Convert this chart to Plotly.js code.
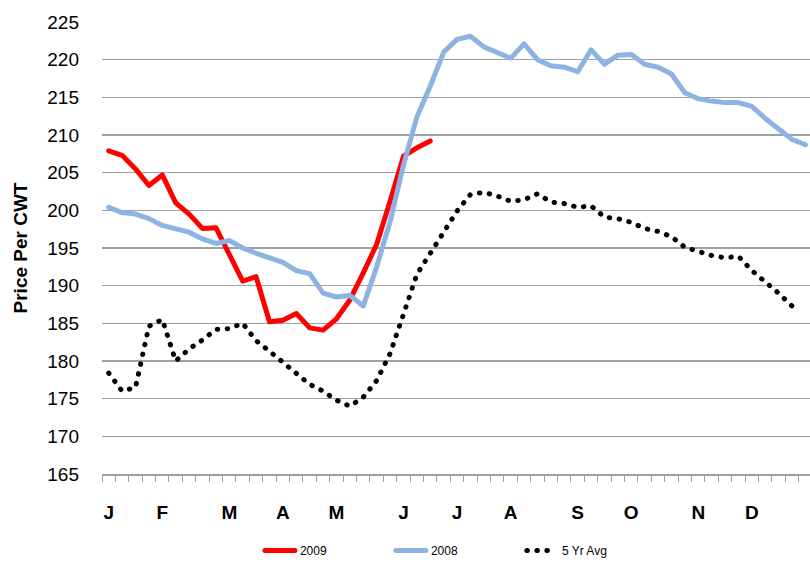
<!DOCTYPE html>
<html>
<head>
<meta charset="utf-8">
<script src="https://cdn.plot.ly/plotly-3.0.1.min.js"></script>
<style>
  html, body { margin: 0; padding: 0; background: #ffffff; }
  #chart { width: 810px; height: 565px; }
  #chart path.js-line { stroke-linecap: round !important; stroke-linejoin: round !important; }
</style>
</head>
<body>
<div id="chart"></div>
<script>
// ---- Data (weekly, price per CWT) ----
var monthLabels = ['J', 'F', 'M', 'A', 'M', 'J', 'J', 'A', 'S', 'O', 'N', 'D'];
var monthStartWeek = [0, 4, 9, 13, 17, 22, 26, 30, 35, 39, 44, 48];

var series2009 = [207.9, 207.3, 205.5, 203.3, 204.7, 201.0, 199.5, 197.6, 197.7, 194.3,
                  190.6, 191.2, 185.2, 185.4, 186.3, 184.4, 184.1, 185.6, 188.1, 191.7,
                  195.5, 201.2, 207.2, 208.3, 209.2];

var series2008 = [200.4, 199.7, 199.5, 198.9, 198.0, 197.6, 197.1, 196.2, 195.6, 196.0,
                  195.0, 194.3, 193.7, 193.1, 192.0, 191.6, 189.0, 188.5, 188.7, 187.3,
                  192.5, 198.5, 206.0, 212.4, 216.5, 221.0, 222.7, 223.1, 221.7, 221.0,
                  220.2, 222.1, 220.0, 219.2, 219.0, 218.4, 221.3, 219.4, 220.6, 220.7,
                  219.4, 219.0, 218.1, 215.6, 214.8, 214.5, 214.3, 214.3, 213.8, 212.2,
                  210.7, 209.4, 208.7];

var series5yr = [178.4, 176.0, 176.5, 184.6, 185.5, 180.0, 181.6, 182.8, 184.2, 184.3,
                 185.0, 182.7, 181.3, 179.8, 178.3, 176.9, 176.0, 174.8, 174.0, 175.2,
                 177.4, 181.0, 186.2, 191.5, 194.3, 197.0, 199.9, 202.1, 202.4, 201.9,
                 201.2, 201.4, 202.2, 201.1, 200.9, 200.4, 200.6, 199.1, 198.9, 198.4,
                 197.6, 197.2, 196.5, 195.1, 194.6, 194.0, 193.7, 193.9, 192.0, 190.6,
                 189.0, 187.3];

var seriesNames = ['2009', '2008', '5 Yr Avg'];

// week index for each point (category order)
function weekIdx(arr) { return arr.map(function (_, i) { return i; }); }

var numWeeks = series2008.length;
var boundaries = [];
for (var b = 0; b <= numWeeks; b++) boundaries.push(b - 0.5);

var traces = [
  { x: weekIdx(series2009), y: series2009, name: seriesNames[0], type: 'scatter', mode: 'lines',
    line: { color: '#ff0000', width: 5 }, hoverinfo: 'skip' },
  { x: weekIdx(series2008), y: series2008, name: seriesNames[1], type: 'scatter', mode: 'lines',
    line: { color: '#8db3e2', width: 5 }, hoverinfo: 'skip' },
  { x: weekIdx(series5yr), y: series5yr, name: seriesNames[2], type: 'scatter', mode: 'lines',
    line: { color: '#000000', width: 5, dash: '0.5px,9.5px' }, hoverinfo: 'skip' }
];

var layout = {
  width: 810, height: 565,
  margin: { l: 102, r: 0, t: 22, b: 90 },
  paper_bgcolor: '#ffffff', plot_bgcolor: '#ffffff',
  font: { family: 'Liberation Sans, Arial, sans-serif', color: '#000000' },
  showlegend: true,
  legend: {
    orientation: 'h', x: 0.223, xanchor: 'left', y: -0.17, yanchor: 'middle',
    font: { size: 12, color: '#000000' }, itemwidth: 30,
    entrywidth: 86, entrywidthmode: 'pixels',
    bgcolor: 'rgba(0,0,0,0)'
  },
  xaxis: {
    type: 'linear',
    range: [-0.5, 52.34],
    tickmode: 'array', tickvals: monthStartWeek, ticktext: monthLabels,
    ticks: '', ticklabelstandoff: 21,
    tickfont: { size: 19, family: 'Liberation Sans, Arial, sans-serif', weight: 'bold', color: '#000000' },
    showgrid: false, zeroline: false,
    showline: true, linecolor: '#a0a0a0', linewidth: 1.5,
    minor: { tickmode: 'array', tickvals: boundaries, ticks: 'outside', ticklen: 6,
             tickcolor: '#a0a0a0', tickwidth: 1, showgrid: false },
    fixedrange: true
  },
  yaxis: {
    range: [165, 225], tickmode: 'linear', tick0: 165, dtick: 5,
    ticks: '', ticklabelstandoff: 22,
    tickfont: { size: 19, family: 'Liberation Sans, Arial, sans-serif', color: '#000000' },
    showgrid: true, gridcolor: '#a0a0a0', gridwidth: 1.3,
    zeroline: false, showline: false,
    title: { text: 'Price Per CWT', standoff: 14,
             font: { size: 19, family: 'Liberation Sans, Arial, sans-serif', weight: 'bold', color: '#000000' } },
    fixedrange: true
  }
};

Plotly.newPlot('chart', traces, layout, { displayModeBar: false, staticPlot: true });
</script>
</body>
</html>
